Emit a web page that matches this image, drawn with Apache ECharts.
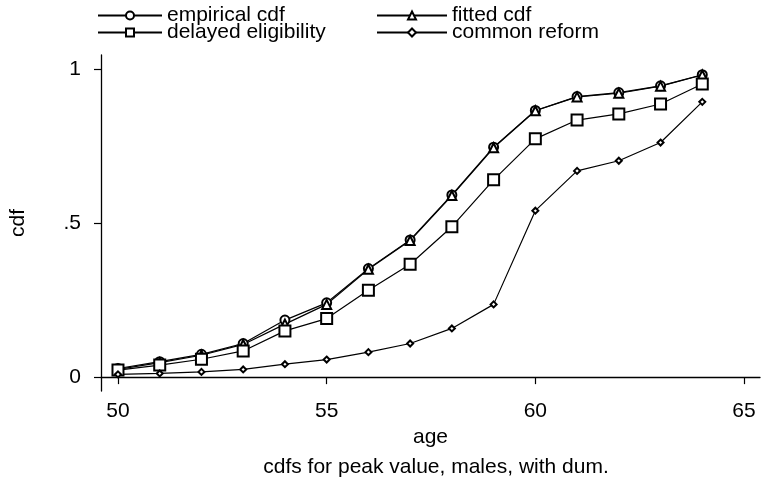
<!DOCTYPE html>
<html>
<head>
<meta charset="utf-8">
<script src="https://cdn.jsdelivr.net/npm/echarts@6/dist/echarts.min.js"></script>
<style>
  html, body { margin: 0; padding: 0; background: #fff; }
  #chart { width: 764px; height: 480px; }
</style>
</head>
<body>
<div id="chart"></div>
<script>
// age at peak value, males
const ages = [50, 51, 52, 53, 54, 55, 56, 57, 58, 59, 60, 61, 62, 63, 64];
const empiricalCdf = [0.028, 0.050, 0.074, 0.109, 0.185, 0.241, 0.352, 0.445, 0.591, 0.746, 0.865, 0.910, 0.923, 0.945, 0.981];
const fittedCdf    = [0.025, 0.047, 0.071, 0.106, 0.172, 0.236, 0.350, 0.443, 0.589, 0.744, 0.864, 0.909, 0.921, 0.944, 0.980];
const delayedElig  = [0.023, 0.039, 0.058, 0.085, 0.150, 0.190, 0.282, 0.366, 0.488, 0.640, 0.773, 0.834, 0.854, 0.886, 0.951];
const commonReform = [0.009, 0.012, 0.017, 0.025, 0.042, 0.057, 0.081, 0.109, 0.158, 0.236, 0.540, 0.669, 0.702, 0.761, 0.893];

const xTicks = [50, 55, 60, 65];
const yTicks = [0, 0.5, 1];
const yTickLabels = ['0', '.5', '1'];

const font = 'Liberation Sans, Arial, Helvetica, sans-serif';
const fs = 21;
const pairs = vals => ages.map((a, i) => [a, vals[i]]);

function lineSeries(name, vals, symbol, size) {
  return {
    name: name,
    type: 'line',
    data: pairs(vals),
    symbol: symbol,
    symbolSize: size,
    showAllSymbol: true,
    lineStyle: { color: '#000', width: 1.2 },
    itemStyle: { color: '#000', borderColor: '#000', borderWidth: 1.1 },
    emphasis: { disabled: true },
    animation: false
  };
}

const chart = echarts.init(document.getElementById('chart'), null, { renderer: 'canvas' });
const legendText = { fontFamily: font, fontSize: fs, color: '#000' };
chart.setOption({
  backgroundColor: '#fff',
  animation: false,
  grid: { left: 100, right: 4, top: 55, bottom: 89, containLabel: false },
  legend: [
    {
      left: 92, top: 0, orient: 'vertical', itemGap: -4, padding: 5,
      itemWidth: 64, itemHeight: 10,
      data: ['empirical cdf', 'delayed eligibility'],
      textStyle: legendText, selectedMode: false
    },
    {
      left: 371, top: 0, orient: 'vertical', itemGap: -4, padding: 5,
      itemWidth: 70, itemHeight: 10,
      data: ['fitted cdf', 'common reform'],
      textStyle: legendText, selectedMode: false
    }
  ],
  title: {
    text: 'cdfs for peak value, males, with dum.',
    left: 431, top: 452, textAlign: 'center',
    textStyle: { fontFamily: font, fontSize: fs, fontWeight: 'normal', color: '#000' }
  },
  xAxis: {
    type: 'value',
    min: 49.593, max: 65.383,
    name: 'age', nameLocation: 'middle', nameGap: 33,
    nameTextStyle: { fontFamily: font, fontSize: fs, color: '#000' },
    axisLine: { show: true, lineStyle: { color: '#000', width: 1.3 } },
    axisTick: { show: true, length: 7, customValues: xTicks, lineStyle: { color: '#000', width: 1.2 } },
    axisLabel: { customValues: xTicks, margin: 10, fontFamily: font, fontSize: fs, color: '#000' },
    splitLine: { show: false }
  },
  yAxis: {
    type: 'value',
    min: -0.045, max: 1.045,
    name: 'cdf', nameLocation: 'middle', nameGap: 72, nameRotate: 90,
    nameTextStyle: { fontFamily: font, fontSize: fs, color: '#000' },
    axisLine: { show: true, lineStyle: { color: '#000', width: 1.3 } },
    axisTick: { show: true, length: 7, customValues: yTicks, lineStyle: { color: '#000', width: 1.2 } },
    axisLabel: {
      customValues: yTicks, margin: 20, fontFamily: font, fontSize: fs, color: '#000',
      formatter: v => yTickLabels[yTicks.indexOf(v)] ?? ''
    },
    splitLine: { show: false }
  },
  series: [
    lineSeries('empirical cdf', empiricalCdf, 'emptyCircle', 9),
    lineSeries('fitted cdf', fittedCdf, 'emptyTriangle', 9),
    lineSeries('delayed eligibility', delayedElig, 'emptyRect', 11),
    lineSeries('common reform', commonReform, 'emptyDiamond', 6)
  ]
});
</script>
</body>
</html>
